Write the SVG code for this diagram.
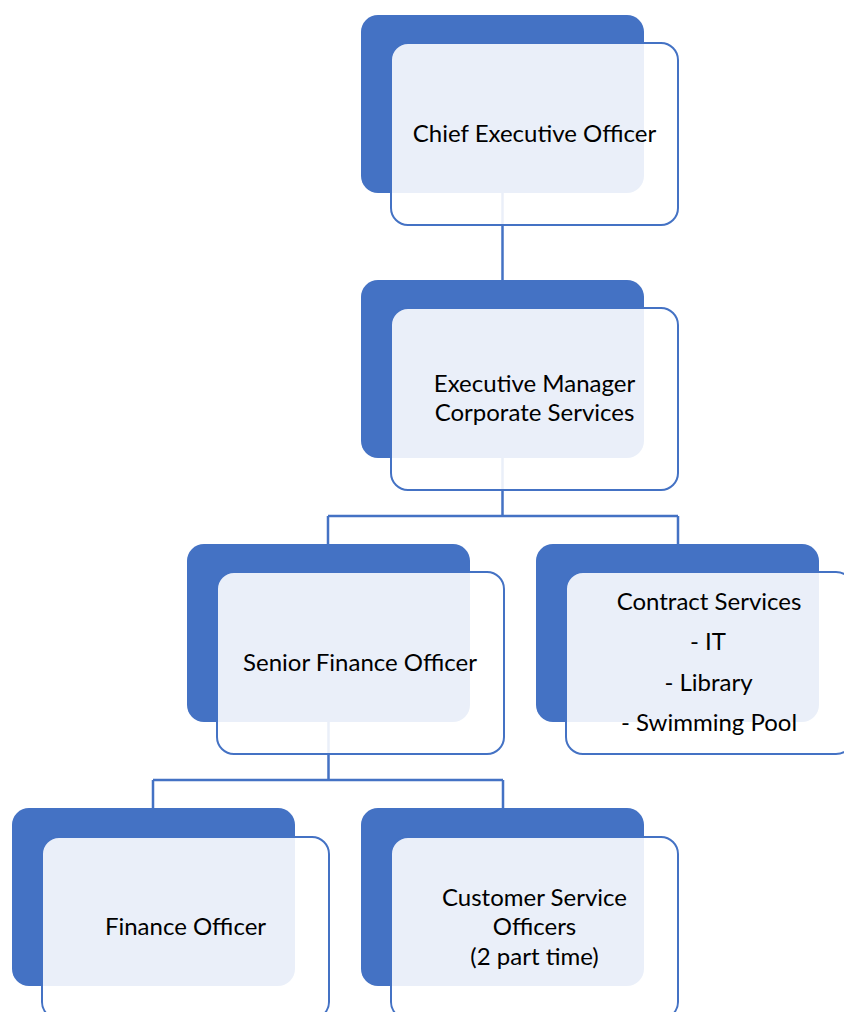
<svg xmlns="http://www.w3.org/2000/svg" width="844" height="1012" viewBox="0 0 844 1012">
  <style>
    .back { fill: #4472C4; }
    .front { fill: #FFFFFF; fill-opacity: 0.89; stroke: #4472C4; stroke-width: 2; }
    .wire { fill: none; stroke: #4472C4; stroke-width: 2.5; }
    .label { font-family: Lato, "Open Sans", "Liberation Sans", sans-serif; font-size: 24px; fill: #000000; text-anchor: middle; }
  </style>
  <rect width="844" height="1012" fill="#FFFFFF"/>

  <!-- connectors, drawn beneath the translucent front cards -->
  <g id="connectors">
    <path class="wire" d="M502.5,193 V280"/>
    <path class="wire" d="M502.5,458 V516 M328,516 H678 M328,516 V544 M678,516 V544"/>
    <path class="wire" d="M328.5,722 V780 M153,780 H503 M153,780 V808 M503,780 V808"/>
  </g>

  <g id="ceo">
    <rect class="back" x="361" y="15" width="283" height="178" rx="17"/>
    <rect class="front" x="391" y="43" width="287" height="182" rx="17"/>
    <text class="label" x="534.5" y="142">Chief Executive Officer</text>
  </g>

  <g id="exec-manager">
    <rect class="back" x="361" y="280" width="283" height="178" rx="17"/>
    <rect class="front" x="391" y="308" width="287" height="182" rx="17"/>
    <text class="label" x="534.5" y="392">Executive Manager</text>
    <text class="label" x="534.5" y="421">Corporate Services</text>
  </g>

  <g id="senior-finance">
    <rect class="back" x="187" y="544" width="283" height="178" rx="17"/>
    <rect class="front" x="217" y="572" width="287" height="182" rx="17"/>
    <text class="label" x="360" y="671">Senior Finance Officer</text>
  </g>

  <g id="contract-services">
    <rect class="back" x="536" y="544" width="283" height="178" rx="17"/>
    <rect class="front" x="566" y="572" width="287" height="182" rx="17"/>
    <text class="label" x="709" y="610">Contract Services</text>
    <text class="label" x="708" y="650">- IT</text>
    <text class="label" x="708.5" y="691">- Library</text>
    <text class="label" x="709" y="731">- Swimming Pool</text>
  </g>

  <g id="finance-officer">
    <rect class="back" x="12" y="808" width="283" height="178" rx="17"/>
    <rect class="front" x="42" y="837" width="287" height="182" rx="17"/>
    <text class="label" x="185.5" y="935">Finance Officer</text>
  </g>

  <g id="customer-service">
    <rect class="back" x="361" y="808" width="283" height="178" rx="17"/>
    <rect class="front" x="391" y="837" width="287" height="182" rx="17"/>
    <text class="label" x="534.5" y="906">Customer Service</text>
    <text class="label" x="534.5" y="935">Officers</text>
    <text class="label" x="534.5" y="965">(2 part time)</text>
  </g>
</svg>
